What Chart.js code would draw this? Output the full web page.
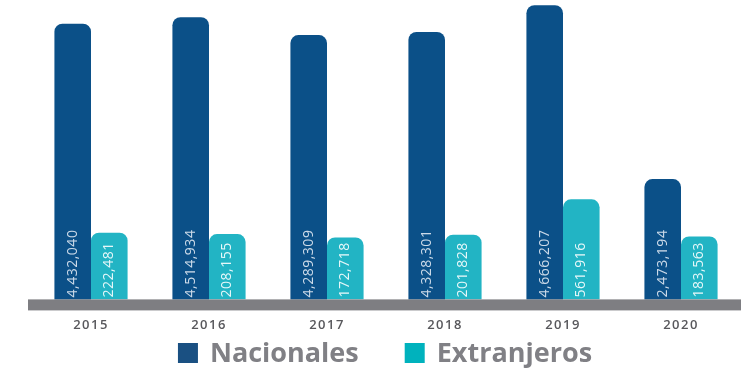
<!DOCTYPE html>
<html lang="es">
<head>
<meta charset="utf-8">
<script src="https://cdn.jsdelivr.net/npm/chart.js@4.4.0/dist/chart.umd.min.js"></script>
<style>
  html, body { margin: 0; padding: 0; background: #fff; }
  #wrap { width: 751px; height: 369px; }
</style>
</head>
<body>
<div id="wrap"><canvas id="grafico"></canvas></div>
<script>
// Données
const annees = ['2015', '2016', '2017', '2018', '2019', '2020'];
const nacionales = [4432040, 4514934, 4289309, 4328301, 4666207, 2473194];
const extranjeros = [222481, 208155, 172718, 201828, 561916, 183563];

// L'original n'est pas à l'échelle : chaque série a son propre axe
const NAC_MIN = 955000, NAC_MAX = 4732000;
const EXT_MIN = -458700, EXT_MAX = 2596000;

const FONT = '"Open Sans", "Liberation Sans", sans-serif';

const habillage = {
    id: 'habillage',
    beforeDraw(chart) {
        chart.ctx.letterSpacing = '1.5px';
    },
    beforeDatasetsDraw(chart) {
        chart.ctx.letterSpacing = '0px';
    },
    afterDatasetsDraw(chart) {
        const { ctx, chartArea } = chart;

        // valeurs verticales dans les barres
        ctx.save();
        ctx.font = '400 14px ' + FONT;
        ctx.letterSpacing = '0.5px';
        ctx.textAlign = 'left';
        ctx.textBaseline = 'middle';
        chart.data.datasets.forEach((ds, i) => {
            chart.getDatasetMeta(i).data.forEach((bar, j) => {
                ctx.save();
                ctx.translate(bar.x, chartArea.bottom - 2);
                ctx.rotate(-Math.PI / 2);
                ctx.fillStyle = ds.couleurTexte;
                ctx.fillText(ds.data[j].toLocaleString('en-US'), 0, 0);
                ctx.restore();
            });
        });
        ctx.restore();

        // barre grise du bas
        ctx.save();
        ctx.fillStyle = '#7e7e82';
        ctx.fillRect(chartArea.left - 4, chartArea.bottom, chartArea.right - chartArea.left + 5, 11);
        ctx.restore();
    },
    afterDraw(chart) {
        // légende
        const { ctx } = chart;
        ctx.save();
        ctx.letterSpacing = '0px';
        ctx.font = '700 27px ' + FONT;
        ctx.textBaseline = 'middle';
        ctx.textAlign = 'left';
        const items = chart.data.datasets.map(ds => ({
            text: ds.label,
            color: ds.couleurLegende,
            w: 20 + 12 + ctx.measureText(ds.label).width
        }));
        const gap = 46;
        const total = items.reduce((s, it) => s + it.w, 0) + gap * (items.length - 1);
        let x = 385 - total / 2;
        items.forEach(it => {
            ctx.fillStyle = it.color;
            ctx.fillRect(x, 343, 20, 20);
            ctx.fillStyle = '#808085';
            ctx.fillText(it.text, x + 32, 354);
            x += it.w + gap;
        });
        ctx.restore();
    }
};

new Chart(document.getElementById('grafico'), {
    type: 'bar',
    data: {
        labels: annees,
        datasets: [
            {
                label: 'Nacionales',
                data: nacionales,
                yAxisID: 'y',
                backgroundColor: '#0b5088',
                couleurLegende: '#1a5082',
                couleurTexte: 'rgba(225, 233, 243, 0.9)',
                borderRadius: { topLeft: 8, topRight: 8 },
                borderSkipped: 'start',
                categoryPercentage: 0.62,
                barPercentage: 1.0
            },
            {
                label: 'Extranjeros',
                data: extranjeros,
                yAxisID: 'y2',
                base: EXT_MIN,
                backgroundColor: '#22b4c4',
                couleurLegende: '#00b2bd',
                couleurTexte: 'rgba(240, 251, 252, 0.95)',
                borderRadius: { topLeft: 8, topRight: 8 },
                borderSkipped: 'start',
                categoryPercentage: 0.62,
                barPercentage: 1.0
            }
        ]
    },
    options: {
        responsive: true,
        maintainAspectRatio: false,
        animation: false,
        layout: {
            padding: { left: 32, right: 11, top: 0, bottom: 18 }
        },
        plugins: {
            legend: { display: false },
            tooltip: { enabled: false }
        },
        scales: {
            x: {
                grid: { display: false, drawTicks: false },
                border: { display: false },
                ticks: {
                    color: '#58585c',
                    padding: 18,
                    font: { family: FONT, size: 13, weight: '600' }
                }
            },
            y: {
                display: false,
                min: NAC_MIN,
                max: NAC_MAX
            },
            y2: {
                display: false,
                min: EXT_MIN,
                max: EXT_MAX
            }
        }
    },
    plugins: [habillage]
});
</script>
</body>
</html>
